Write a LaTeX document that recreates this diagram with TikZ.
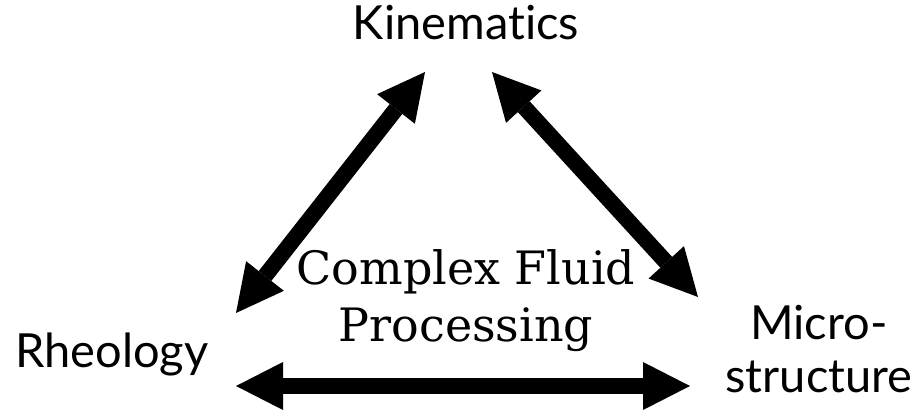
\documentclass[tikz,border=0pt]{standalone}
\usepackage{fontspec}
\setmainfont[Ligatures=NoCommon]{Lato}
\newfontfamily\slabfont{DejaVu Serif}
\usetikzlibrary{arrows.meta}
\tikzset{
  bigarrow/.style={line width=16pt, {Triangle[length=47pt,width=48pt,line width=0pt]}-{Triangle[length=47pt,width=48pt,line width=0pt]}},
  label/.style={inner sep=0pt, font=\fontsize{47}{52}\selectfont},
  center/.style={inner sep=0pt, align=center, font=\slabfont\fontsize{46}{57}\selectfont}
}
\begin{document}
\begin{tikzpicture}[x=1pt,y=-1pt]
\useasboundingbox (0,0) rectangle (914,414);
\node[label, anchor=base] (kin) at (466,40) {Kinematics};
\node[label, anchor=base west] (rheo) at (15,368) {Rheology};
\node[label, anchor=base] (micro) at (819,340) {Micro-};
\node[label, anchor=base] (struct) at (819,392) {structure};
\node[center, anchor=base] (cfp1) at (466,285) {Complex Fluid};
\node[center, anchor=base] (cfp2) at (466,342) {Processing};
\coordinate (lt) at (425,72);
\coordinate (lb) at (236,313);
\coordinate (rt) at (492,72);
\coordinate (rb) at (698,297);
\coordinate (bl) at (236,386);
\coordinate (br) at (690,386);
\draw[bigarrow] (lb) -- (lt);
\draw[bigarrow] (rt) -- (rb);
\draw[bigarrow] (bl) -- (br);
\end{tikzpicture}
\end{document}
